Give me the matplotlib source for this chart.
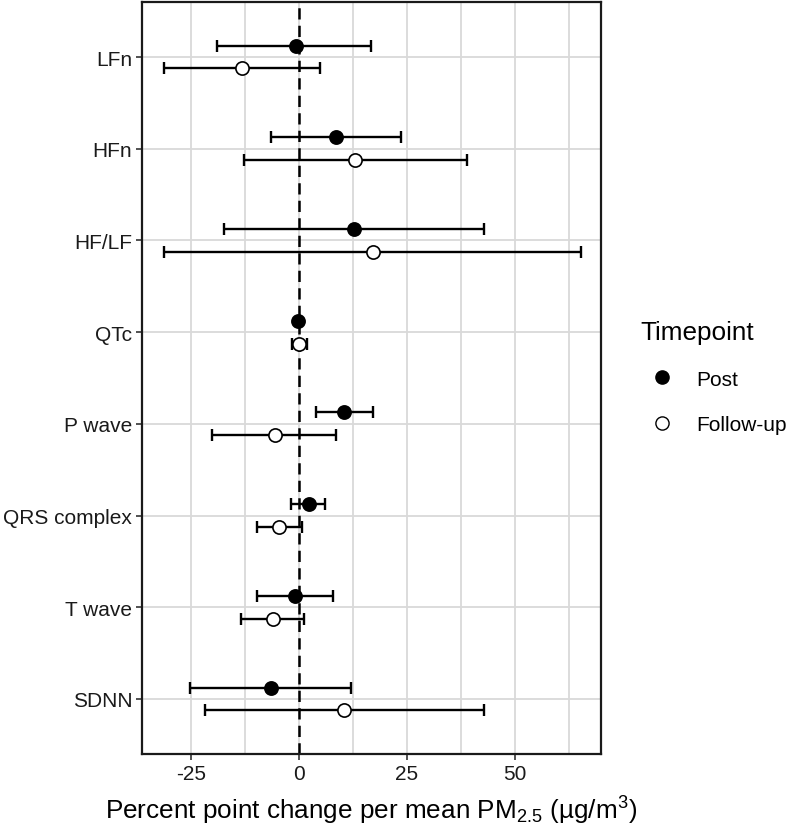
import numpy as np
import matplotlib
matplotlib.use("Agg")
import matplotlib.pyplot as plt
from matplotlib.lines import Line2D

plt.rcParams['font.family'] = ['Liberation Sans', 'DejaVu Sans']
plt.rcParams['mathtext.fontset'] = 'custom'
plt.rcParams['mathtext.rm'] = 'Liberation Sans'
plt.rcParams['mathtext.it'] = 'Liberation Sans:italic'
plt.rcParams['axes.unicode_minus'] = False

# outcomes, top to bottom
outcomes = ['LFn', 'HFn', 'HF/LF', 'QTc', 'P wave', 'QRS complex', 'T wave', 'SDNN']

post_est = [-0.7, 8.7, 12.8, -0.1, 10.5, 2.4, -0.9, -6.5]
post_lo = [-19.0, -6.5, -17.4, -0.5, 3.9, -1.8, -9.8, -25.2]
post_hi = [16.6, 23.7, 42.8, 0.3, 17.2, 6.0, 8.0, 12.0]

fu_est = [-13.2, 13.0, 17.1, 0.1, -5.6, -4.5, -6.1, 10.5]
fu_lo = [-31.3, -12.8, -31.3, -1.7, -20.1, -9.8, -13.3, -21.8]
fu_hi = [4.85, 38.8, 65.2, 1.8, 8.7, 0.7, 1.2, 42.9]

fig = plt.figure(figsize=(7.87, 8.29), dpi=100)
ax = fig.add_axes([142/787, 1-755/829, (601-142)/787, (755-3)/829])

ypos = np.arange(len(outcomes))[::-1] + 1.0
dodge = 0.125

post_est = np.array(post_est)
fu_est = np.array(fu_est)
ax.errorbar(post_est, ypos + dodge,
            xerr=[post_est - np.array(post_lo), np.array(post_hi) - post_est],
            fmt='none', ecolor='black', elinewidth=1.7, capsize=4.5, capthick=1.7, zorder=3)
ax.errorbar(fu_est, ypos - dodge,
            xerr=[fu_est - np.array(fu_lo), np.array(fu_hi) - fu_est],
            fmt='none', ecolor='black', elinewidth=1.7, capsize=4.5, capthick=1.7, zorder=3)
ax.plot(post_est, ypos + dodge, 'o', ms=9.5, mfc='black', mec='black', mew=1.2, zorder=4)
ax.plot(fu_est, ypos - dodge, 'o', ms=9.5, mfc='white', mec='black', mew=1.2, zorder=4)

ax.axvline(0, color='black', lw=1.8, ls=(0, (4.5, 2.5)), zorder=2)

ax.set_xlim(-36.3, 69.9)
ax.set_ylim(0.4, 8.6)
ax.set_xticks([-25, 0, 25, 50])
ax.set_xticks([-12.5, 12.5, 37.5, 62.5], minor=True)
ax.set_yticks(ypos)
ax.set_yticklabels(outcomes)
ax.grid(True, which='both', axis='x', color='#d9d9d9', lw=1.3, zorder=0)
ax.grid(True, which='major', axis='y', color='#d9d9d9', lw=1.3, zorder=0)
ax.set_axisbelow(True)
ax.tick_params(axis='both', which='major', labelsize=15, length=4, width=1.2,
               color='#333333', labelcolor='#1a1a1a', pad=3)
ax.tick_params(axis='x', which='minor', length=0)
for s in ax.spines.values():
    s.set_linewidth(1.6)
    s.set_color('#1a1a1a')

ax.set_xlabel('Percent point change per mean PM$_{\\mathrm{2.5}}$ (µg/m$^{\\mathrm{3}}$)',
              fontsize=18.8, color='black', labelpad=8)

handles = [Line2D([], [], marker='o', ls='none', ms=9.5, mfc='black', mec='black'),
           Line2D([], [], marker='o', ls='none', ms=9.5, mfc='white', mec='black')]
leg = fig.legend(handles, ['Post', 'Follow-up'], title='Timepoint',
                 loc='upper left', bbox_to_anchor=(622/787, 1-302/829),
                 frameon=False, fontsize=15, title_fontsize=18.8,
                 handletextpad=0.65, labelspacing=1.25, alignment='left')

fig.savefig('out.png', dpi=100)
